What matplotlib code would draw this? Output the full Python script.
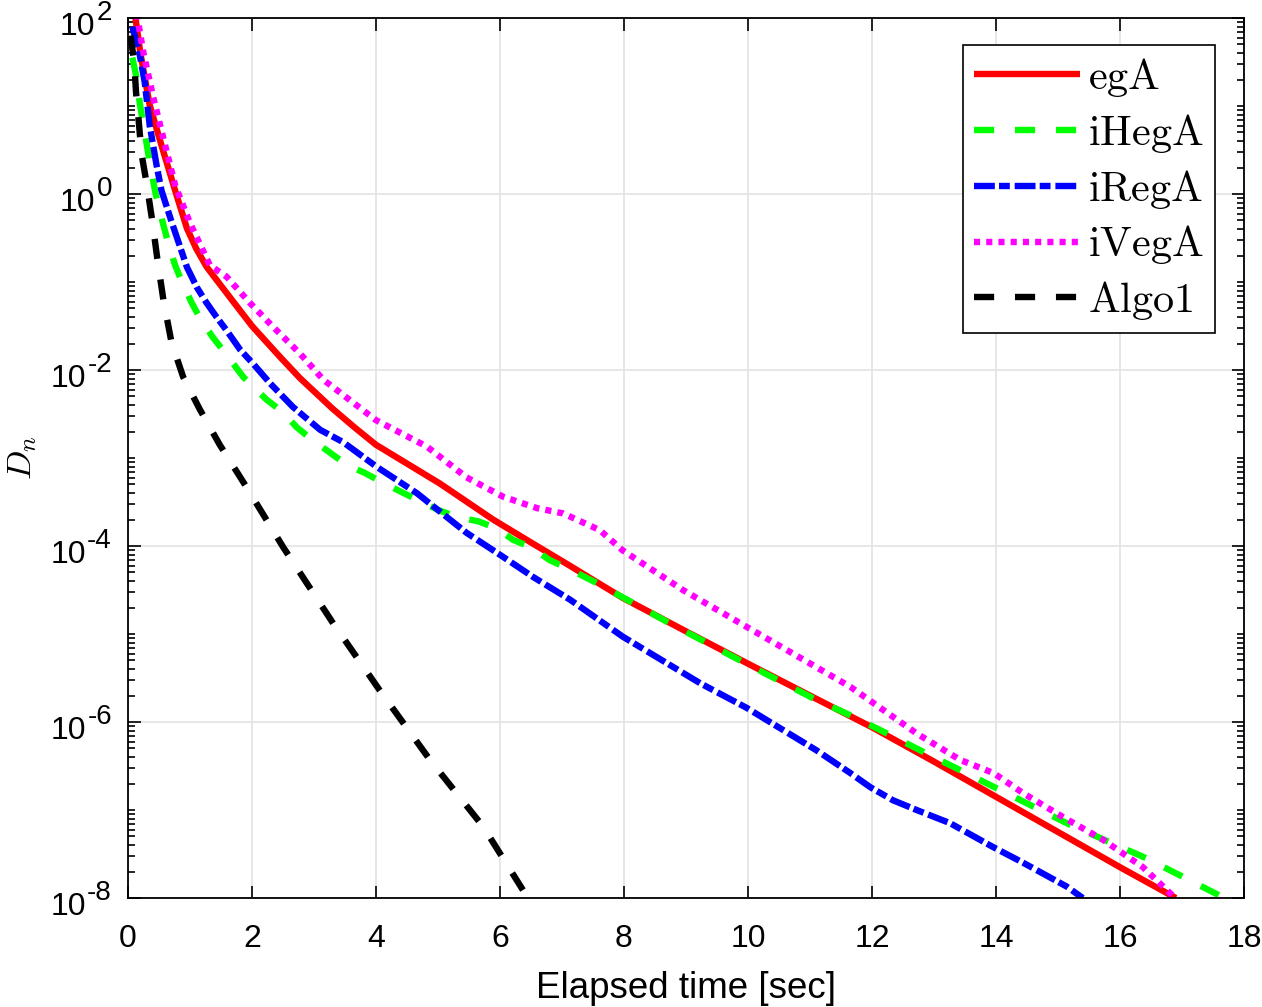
import numpy as np
import matplotlib
matplotlib.use('Agg')
import matplotlib.pyplot as plt
from matplotlib.ticker import FixedLocator, LogLocator, NullFormatter, NullLocator
from matplotlib.transforms import offset_copy

plt.rcParams['font.family'] = ['Liberation Sans', 'DejaVu Sans']
plt.rcParams['mathtext.fontset'] = 'cm'
plt.rcParams['lines.scale_dashes'] = False

# ---------------- data (time in sec, values as log10(D_n)) ----------------
ega_t = [0.11, 0.2, 0.35, 0.55, 0.76, 0.95, 1.1, 1.27, 1.65, 2.0, 2.45, 2.77, 3.3, 3.65, 4.0, 5.03,
         5.89, 6.5, 7.07, 7.98, 9.0, 9.98, 11.0, 12.0, 13.0, 14.0, 15.0, 16.0, 16.9]
ega_log = [2.05, 1.6, 1.01, 0.53, 0.04, -0.39, -0.62, -0.83, -1.18, -1.5, -1.85, -2.09, -2.44, -2.65, -2.85, -3.29,
           -3.7, -3.96, -4.2, -4.59, -4.97, -5.33, -5.7, -6.06, -6.45, -6.85, -7.25, -7.65, -8.0]

ihega_t = [0.07, 0.13, 0.19, 0.27, 0.35, 0.44, 0.57, 0.65, 0.76, 0.87, 1.03, 1.16, 1.37, 1.56, 1.86,
           2.24, 2.5, 2.72, 2.98, 3.26, 3.53, 3.82, 4.11, 4.42, 4.68, 5.0, 5.31, 5.65, 5.95, 6.21,
           6.52, 6.8, 7.08, 7.56, 8.69, 9.87, 11.05, 11.7, 12.24, 12.83, 14.0, 15.2, 16.43, 17.6, 17.71]
ihega_log = [1.55, 1.35, 1.03, 0.7, 0.36, 0.02, -0.35, -0.56, -0.81, -1.0, -1.24, -1.41, -1.63, -1.8, -2.08,
             -2.34, -2.48, -2.65, -2.8, -2.94, -3.08, -3.17, -3.28, -3.39, -3.48, -3.59, -3.67, -3.72, -3.8, -3.93,
             -4.02, -4.16, -4.25, -4.42, -4.86, -5.3, -5.73, -5.94, -6.13, -6.34, -6.75, -7.17, -7.55, -7.97, -8.0]

irega_t = [0.07, 0.19, 0.27, 0.35, 0.46, 0.54, 0.7, 0.84, 0.95, 1.11, 1.27, 1.43, 1.59, 1.81, 2.02,
           2.29, 2.66, 3.1, 3.47, 4.01, 4.66, 5.46, 6.0, 6.53, 7.13, 7.98, 9.23, 9.98, 11.1, 11.65,
           11.97, 12.34, 12.72, 13.26, 13.95, 14.44, 15.14, 15.4]
irega_log = [1.9, 1.58, 1.27, 0.78, 0.33, 0.04, -0.31, -0.6, -0.83, -1.06, -1.24, -1.4, -1.55, -1.77, -1.93,
             -2.15, -2.42, -2.68, -2.82, -3.1, -3.4, -3.85, -4.1, -4.35, -4.61, -5.03, -5.56, -5.84, -6.32, -6.58,
             -6.74, -6.89, -7.0, -7.15, -7.42, -7.6, -7.87, -8.0]

ivega_t = [0.14, 0.25, 0.41, 0.6, 0.76, 1.0, 1.32, 1.59, 1.97, 2.34, 2.77, 3.15, 4.0, 4.82, 5.46, 6.05,
           6.6, 7.02, 7.61, 7.98, 8.95, 9.98, 10.62, 11.38, 11.65, 12.72, 13.42, 13.96, 14.44, 15.08,
           15.73, 16.37, 16.89]
ivega_log = [2.05, 1.6, 1.09, 0.55, 0.1, -0.33, -0.81, -0.94, -1.24, -1.51, -1.81, -2.11, -2.57, -2.87, -3.22, -3.44,
             -3.57, -3.63, -3.82, -4.05, -4.5, -4.92, -5.18, -5.49, -5.6, -6.13, -6.43, -6.58, -6.81, -7.08,
             -7.34, -7.65, -8.0]

algo1_t = [0.04, 0.1, 0.13, 0.17, 0.22, 0.3, 0.39, 0.47, 0.57, 0.7, 0.89, 1.16, 1.48, 1.91, 2.5, 3.31,
           4.06, 4.87, 5.73, 6.45]
algo1_log = [1.8, 1.5, 1.15, 0.85, 0.45, 0.12, -0.3, -0.72, -1.2, -1.68, -2.08, -2.45, -2.85, -3.33, -4.01,
             -4.88, -5.64, -6.43, -7.19, -8.0]

labels = ['egA', 'iHegA', 'iRegA', 'iVegA', 'Algo1']
xticks = [0, 2, 4, 6, 8, 10, 12, 14, 16, 18]
ytick_exps = [-8, -6, -4, -2, 0, 2]

# ---------------- figure ----------------
fig = plt.figure(figsize=(12.62, 10.07), dpi=100)
ax = fig.add_axes([128 / 1262, 1 - 898 / 1007, 1116 / 1262, 880 / 1007])

lw = 4.6
series = [
    (ega_t, ega_log, dict(color=(1, 0, 0), linestyle='-', solid_capstyle='butt')),
    (ihega_t, ihega_log, dict(color=(0, 1, 0), linestyle=(0, (14.5, 15.0)))),
    (irega_t, irega_log, dict(color=(0, 0, 1), linestyle=(0, (15.0, 3.0, 7.8, 3.5)))),
    (ivega_t, ivega_log, dict(color=(1, 0, 1), linestyle=(0, (4.4, 4.4)))),
    (algo1_t, algo1_log, dict(color=(0, 0, 0), linestyle=(0, (14.5, 15.0)))),
]
for (t, lg, st), lab in zip(series, labels):
    ax.plot(t, 10.0 ** np.asarray(lg), lw=lw, dash_capstyle='butt',
            label=r'$\mathrm{%s}$' % lab, **st)

ax.set_yscale('log')
ax.set_xlim(0, 18)
ax.set_ylim(1e-8, 1e2)

ax.xaxis.set_major_locator(FixedLocator(xticks))
ax.xaxis.set_minor_locator(NullLocator())
ax.yaxis.set_major_locator(FixedLocator([10.0 ** e for e in ytick_exps]))
ax.yaxis.set_minor_locator(LogLocator(base=10, subs=np.arange(1, 10), numticks=100))
ax.yaxis.set_major_formatter(NullFormatter())
ax.yaxis.set_minor_formatter(NullFormatter())

ax.grid(True, which='major', color='#e3e3e3', lw=1.2)
ax.set_axisbelow(True)
for s in ax.spines.values():
    s.set_linewidth(1.3)

ax.tick_params(which='both', direction='in', top=True, right=True, width=1.2)
ax.tick_params(which='major', length=9)
ax.tick_params(which='minor', length=5)
ax.tick_params(axis='x', pad=19, labelsize=23)

# y tick labels: "10" with a raised exponent, drawn as real text
renderer = fig.canvas.get_renderer()
ybase = ax.get_yaxis_transform()
for e in ytick_exps:
    sup = ax.text(0, 10.0 ** e, '%d' % e, fontsize=20, ha='right', va='baseline',
                  transform=offset_copy(ybase, fig=fig, x=-16, y=-2, units='dots'))
    w = sup.get_window_extent(renderer).width
    ax.text(0, 10.0 ** e, '10', fontsize=23, ha='right', va='baseline',
            transform=offset_copy(ybase, fig=fig, x=-16 - w - 1, y=-17, units='dots'))

ax.set_xlabel('Elapsed time [sec]', fontsize=26.5, labelpad=12)
ax.set_ylabel(r'$D_n$', fontsize=25)
ax.yaxis.set_label_coords(-0.08, 0.5)

leg = ax.legend(loc='upper right', bbox_to_anchor=(0.974, 0.969), borderaxespad=0,
                fontsize=30.5, fancybox=False, framealpha=1, edgecolor='black',
                handlelength=2.5, handletextpad=0.2, labelspacing=0.3,
                borderpad=0.26)
leg.get_frame().set_linewidth(1.2)

fig.savefig('out.png', dpi=100)
